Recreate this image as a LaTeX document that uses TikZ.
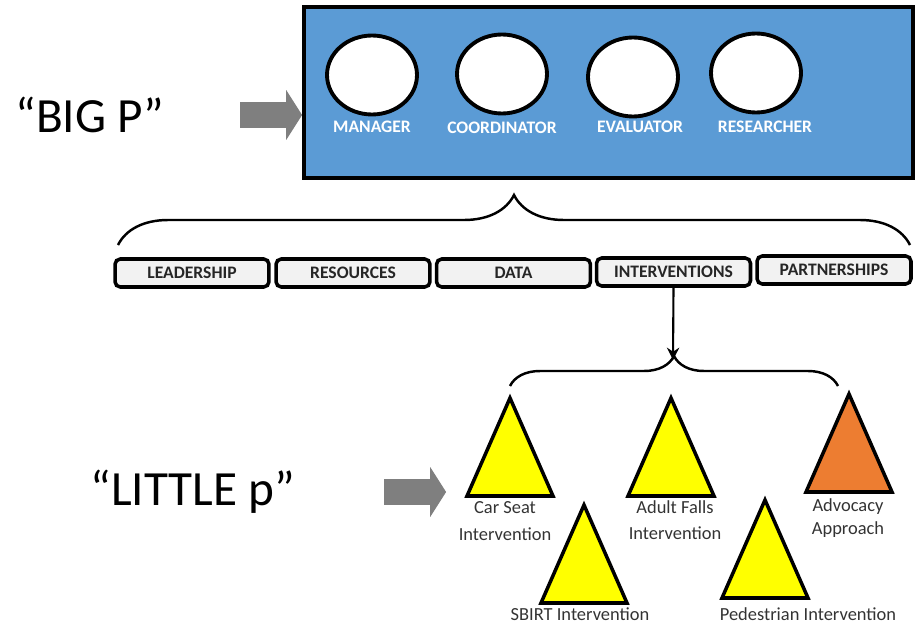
\documentclass[tikz,border=0pt]{standalone}
\usepackage{fontspec}
\setmainfont{Carlito}
\usetikzlibrary{shapes.geometric,shapes.arrows,decorations.pathreplacing,arrows.meta}

\definecolor{boxblue}{HTML}{5B9BD5}
\definecolor{barfill}{HTML}{F2F2F2}
\definecolor{triyellow}{HTML}{FFFF00}
\definecolor{triorange}{HTML}{ED7D31}
\definecolor{pointgray}{HTML}{7F7F7F}

\begin{document}
\begin{tikzpicture}[x=0.02cm,y=-0.02cm,line width=1.6pt]
    \tikzstyle{role}=[ellipse,draw=black,fill=white,line width=2.2pt,minimum width=1.8cm,minimum height=1.58cm]
    \tikzstyle{role label}=[text=white,font=\fontsize{10}{12}\selectfont\bfseries]
    \tikzstyle{area}=[draw=black,fill=barfill,rounded corners=3pt,line width=2pt,minimum width=3.08cm,minimum height=0.56cm,inner sep=0pt,text=black!85,font=\fontsize{10}{12}\selectfont\bfseries]
    \tikzstyle{pointer}=[single arrow,fill=pointgray,inner sep=0pt,inner ysep=0.23cm,minimum height=1.24cm,single arrow head extend=0.24cm,single arrow tip angle=115]
    \tikzstyle{level}=[font=\fontsize{28}{32}\selectfont]
    \tikzstyle{prog}=[draw=black,line width=2pt,line join=miter]
    \tikzstyle{prog label}=[text=black!80,font=\fontsize{10.5}{12}\selectfont,align=center,inner sep=0pt]
    \tikzstyle{curly}=[decorate,line width=1.4pt]

    \useasboundingbox (0,0) rectangle (916,625);

    % "BIG P" with the program roles
    \node[level] (big) at (90,115) {“BIG P”};
    \node[pointer] (big-arrow) at (267,115) {};
    \node[draw=black,fill=boxblue,line width=2.4pt,minimum width=12.18cm,minimum height=3.42cm] (roles) at (608.5,92.5) {};

    \node[role] (R-1) at (372,75) {};
    \node[role] (R-2) at (502,74) {};
    \node[role] (R-3) at (633,77) {};
    \node[role] (R-4) at (756,73) {};
    \node[role label] at (372,127) {MANAGER};
    \node[role label] at (502,128) {COORDINATOR};
    \node[role label] at (640,127) {EVALUATOR};
    \node[role label] at (765,127) {RESEARCHER};

    % brace over the five areas
    \draw[curly,decoration={brace,amplitude=1cm}] (118,245) -- (910,245);

    \node[area] (A-1) at (192,273) {LEADERSHIP};
    \node[area] (A-2) at (353,273) {RESOURCES};
    \node[area] (A-3) at (513.5,273) {DATA};
    \node[area] (A-4) at (673.5,272) {INTERVENTIONS};
    \node[area] (A-5) at (834,270) {PARTNERSHIPS};

    % interventions open onto the little p programs
    \coordinate (tip) at (673,360);
    \draw[-{Stealth[length=7pt,width=7pt]},line width=1.2pt] (A-4.south) -- (tip);
    \draw[curly,decoration={brace,amplitude=0.6cm}] (510,386) -- (838,386);

    % "LITTLE p"
    \node[level] (little) at (193,492) {“LITTLE p”};
    \node[pointer] (little-arrow) at (411,492) {};

    \foreach \x/\y/\c in {510/398/triyellow,671/398/triyellow,849/394/triorange,584/505/triyellow,765/500/triyellow}
        \draw[prog,fill=\c] (\x,\y) -- ++(43,98) -- ++(-86,0) -- cycle;

    \node[prog label] (P-1) at (505,521) {Car Seat\\[3pt]Intervention};
    \node[prog label] (P-2) at (675,520) {Adult Falls\\[3pt]Intervention};
    \node[prog label] (P-3) at (848,518) {Advocacy\\[1pt]Approach};
    \node[prog label] (P-4) at (580,614) {SBIRT Intervention};
    \node[prog label] (P-5) at (808,614) {Pedestrian Intervention};
\end{tikzpicture}
\end{document}
